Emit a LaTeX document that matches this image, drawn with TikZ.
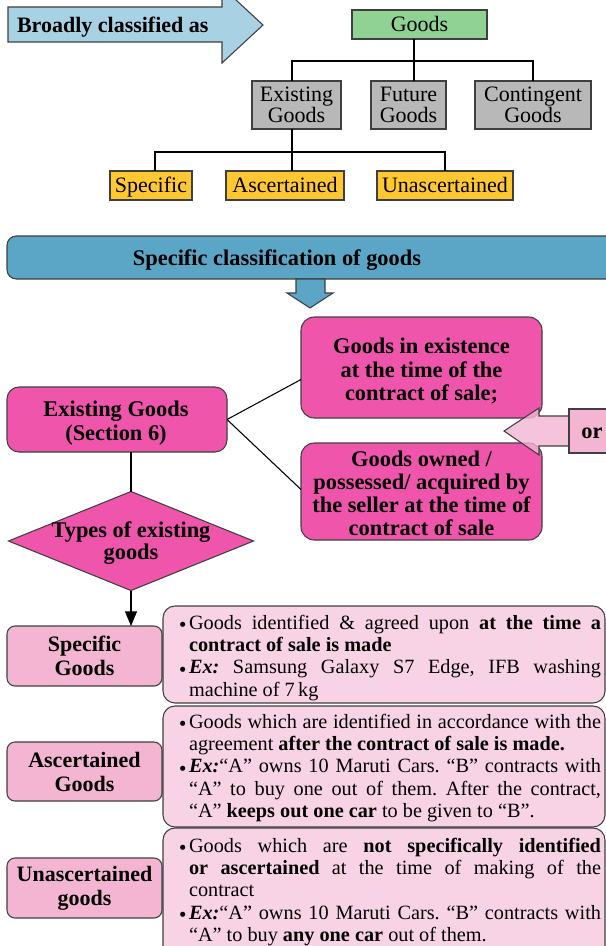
\documentclass[tikz,border=0pt]{standalone}
\usepackage{fontspec}
\setmainfont{Liberation Serif}
\newfontfamily\dejavu{DejaVu Sans}
\usetikzlibrary{shapes.geometric,arrows.meta,calc}

\definecolor{bd}{HTML}{3F3F3F}
\definecolor{lblue}{HTML}{A8D1E3}
\definecolor{ggreen}{HTML}{90D294}
\definecolor{ggray}{HTML}{B8B8B8}
\definecolor{yel}{HTML}{FFC832}
\definecolor{bblue}{HTML}{5BA6C6}
\definecolor{hpink}{HTML}{F055AC}
\definecolor{mpink}{HTML}{F3B5D2}
\definecolor{lpink}{HTML}{F8D3E5}

% bullet hung into the left margin of a paragraph
\newcommand\bul{\leavevmode\llap{\raisebox{2pt}{\dejavu\fontsize{5}{5}\selectfont ●}\hspace{2.5pt}}}
\newcommand\firstline{\rule{0pt}{12pt}}
\newcommand\exlabel{\textbf{\textit{Ex:}}}
% box node from its corners: \bx{style}{x1}{y1}{x2}{y2}{name} {text};
\newcommand\bx[6]{\node[#1, minimum width={(#4-#2)*0.75pt}, minimum height={(#5-#3)*0.75pt}]
  (#6) at ({(#2+#4)/2},{(#3+#5)/2})}

\begin{document}
\frenchspacing
\begin{tikzpicture}[x=0.75pt,y=-0.75pt,
  every node/.style={inner sep=0pt, outer sep=0pt},
  frame/.style={draw=bd, line width=0.8pt},
  conn/.style={draw=black, line width=0.8pt},
  topbox/.style={frame, align=center, font=\fontsize{16.5}{16}\selectfont},
  oneline/.style={text height=13pt, text depth=3pt},
  boldtxt/.style={font=\bfseries\fontsize{16.8}{17.6}\selectfont},
  hbox/.style={frame, fill=hpink, rounded corners=10pt},
  lbox/.style={frame, fill=mpink, rounded corners=6pt, align=center,
    font=\bfseries\fontsize{16.5}{18}\selectfont},
  tbox/.style={frame, fill=lpink, rounded corners=9pt},
  body/.style={anchor=north west, text width=309pt, align=justify,
    font=\fontsize{15.2}{16.8}\selectfont}
]
\useasboundingbox (0,0) rectangle (606,946);

% ---------- broad classification ----------
\draw[frame, fill=lblue] (8,7) -- (222,7) -- (222,-13) -- (263,25) -- (222,63)
  -- (222,42) -- (8,42) -- cycle;
\node[anchor=base west, font=\bfseries\fontsize{16.5}{18}\selectfont] (bca) at (17,32)
  {Broadly classified as};

\bx{topbox, oneline, fill=ggreen}{352}{10}{487}{39}{goods} {Goods};
\bx{topbox, fill=ggray}{252}{81}{341}{129}{ex} {Existing\\Goods};
\bx{topbox, fill=ggray}{371}{81}{446}{129}{fut} {Future\\Goods};
\bx{topbox, fill=ggray}{475}{81}{591}{129}{cont} {Contingent\\Goods};

\bx{topbox, oneline, fill=yel}{110}{171}{192}{200}{spec} {Specific};
\bx{topbox, oneline, fill=yel}{226}{171}{344}{200}{asc} {Ascertained};
\bx{topbox, oneline, fill=yel}{377}{171}{513}{200}{unasc} {Unascertained};

\coordinate (busA) at (292,61);
\coordinate (busB) at (533,61);
\coordinate (busG) at (414,61);
\coordinate (busC) at (292,152);
\coordinate (busS) at (155,152);
\draw[conn] (busA |- ex.north) -- (busA) -- (busB) -- (busB |- cont.north);
\draw[conn] (busG |- goods.south) -- (busG |- fut.north);
\draw[conn] (busC |- ex.south) -- (busC |- asc.north);
\draw[conn] (busS |- spec.north) -- (busS) -- (busC) -| (unasc.north);

% ---------- specific classification ----------
\bx{frame, fill=bblue, rounded corners=7pt}{7}{236}{640}{279}{bar} {};
\node[anchor=base, boldtxt] (bartext) at (277,265) {Specific classification of goods};
\draw[frame, fill=bblue] (296,279) -- (325,279) -- (325,293) -- (333,293) -- (310,308)
  -- (287,293) -- (296,293) -- cycle;

\bx{hbox}{301}{317}{542}{418}{b1} {};
\node[align=center, boldtxt] (b1text) at (421.5,371)
  {Goods in existence\\at the time of the\\contract of sale;};
\bx{hbox}{301}{443}{542}{540}{b2} {};
\node[align=center, font=\bfseries\fontsize{16.8}{17.2}\selectfont] (b2text) at (421.5,493)
  {Goods owned /\\possessed/ acquired by\\the seller at the time of\\contract of sale};
\bx{hbox, rounded corners=9pt}{7}{387}{227}{452}{eg} {};
\node[align=center, boldtxt] (egtext) at (116,423) {Existing Goods\\(Section 6)};

\draw[conn] (eg.east) -- ($(b1.west)+(0,12)$);
\draw[conn] (eg.east) -- ($(b2.west)+(0,-2)$);

% "or" pointer between the two definitions
\draw[frame, fill=mpink, fill opacity=0.8] (569,416) -- (539,416) -- (539,408) -- (504,431)
  -- (539,455) -- (539,446) -- (569,446) -- cycle;
\bx{frame, fill=mpink}{569}{409}{620}{453}{orbox} {};
\node[anchor=base, boldtxt] (ortext) at (592,438) {or};

% ---------- types of existing goods ----------
\node[frame, fill=hpink, diamond, minimum width=183.75pt, minimum height=74.25pt]
  (dia) at (131,541) {};
\node[align=center, font=\bfseries\fontsize{16.8}{16}\selectfont] (diatext) at (131,543)
  {Types of existing\\goods};
\draw[conn] (dia.north |- eg.south) -- (dia.north);

\bx{lbox}{7}{626}{162}{686}{sg} {Specific\\Goods};
\bx{lbox}{7}{742}{162}{801}{ag} {Ascertained\\Goods};
\bx{lbox}{7}{858}{162}{918}{ug} {Unascertained\\goods};

\draw[conn, -{Triangle[width=9pt,length=11pt]}] (dia.south) -- (dia.south |- sg.north);

\bx{tbox}{163}{606}{605}{703}{ta} {};
\bx{tbox}{163}{706}{605}{827}{tb} {};
\bx{tbox}{163}{828}{605}{958}{tc} {};

\node[body] (tatext) at (189,613) {%
  \bul\firstline Goods identified \& agreed upon \textbf{at the time a}\linebreak
  \textbf{contract of sale is made}\par
  \bul\exlabel{} Samsung Galaxy S7 Edge, IFB washing\linebreak
  machine of 7\,kg};

\node[body] (tbtext) at (189,712) {%
  \bul\firstline Goods which are identified in accordance with the\linebreak
  agreement \textbf{after the contract of sale is made.}\par
  \bul\exlabel{}“A” owns 10 Maruti Cars. “B” contracts with\linebreak
  “A” to buy one out of them. After the contract,\linebreak
  “A” \textbf{keeps out one car} to be given to “B”.};

\node[body] (tctext) at (189,836) {%
  \bul\firstline Goods which are \textbf{not specifically identified}\linebreak
  \textbf{or ascertained} at the time of making of the\linebreak
  contract\par
  \bul\exlabel{}“A” owns 10 Maruti Cars. “B” contracts with\linebreak
  “A” to buy \textbf{any one car} out of them.};

\end{tikzpicture}
\end{document}
